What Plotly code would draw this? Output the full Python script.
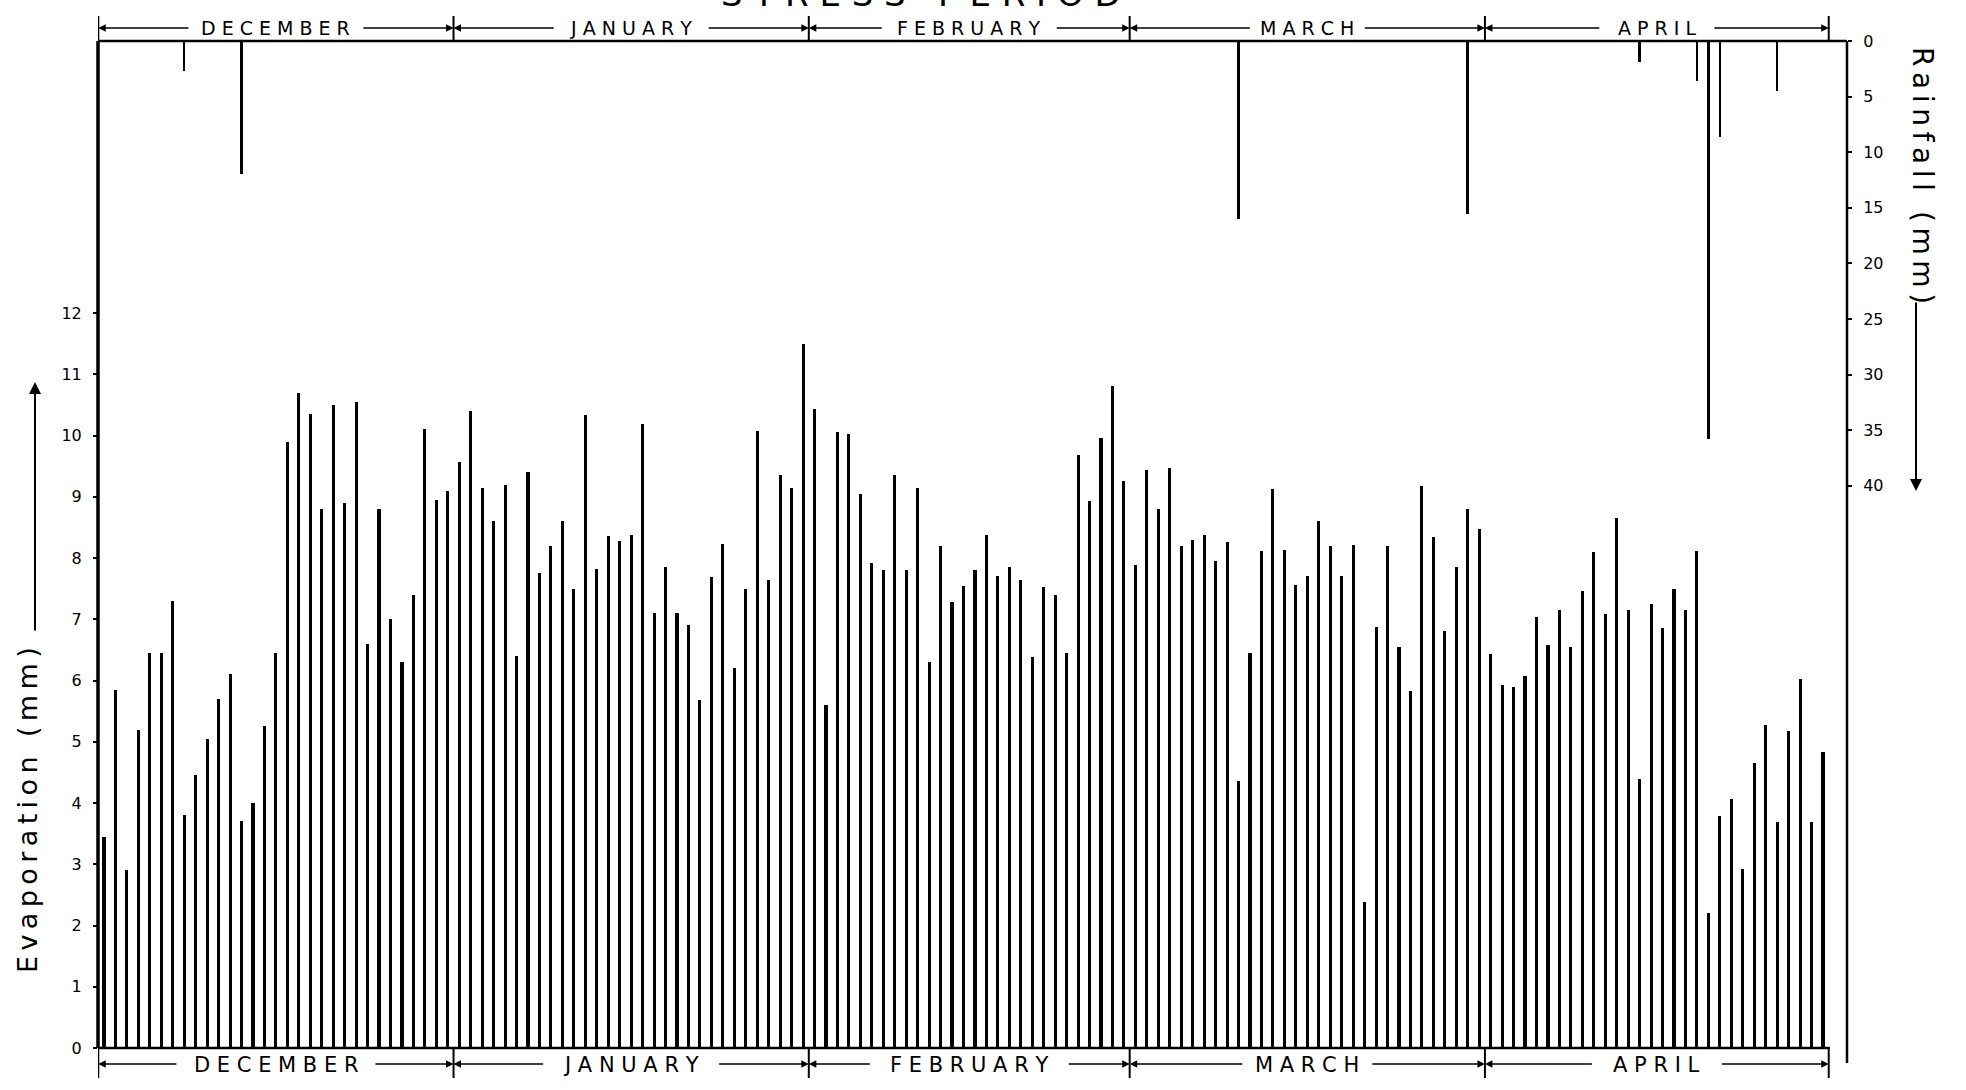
import plotly.graph_objects as go

# ---------------- data ----------------
months = ["DECEMBER", "JANUARY", "FEBRUARY", "MARCH", "APRIL"]
month_days = [31, 31, 28, 31, 30]

evap_dec = [3.45, 5.85, 2.9, 5.2, 6.45, 6.45, 7.3, 3.8, 4.45, 5.05, 5.7, 6.1, 3.7, 4.0, 5.25,
            6.45, 9.9, 10.7, 10.35, 8.8, 10.5, 8.9, 10.55, 6.6, 8.8, 7.0, 6.3, 7.4, 10.1, 8.95, 9.1]
evap_jan = [9.57, 10.4, 9.15, 8.6, 9.2, 6.4, 9.4, 7.75, 8.2, 8.6, 7.5, 10.33, 7.82, 8.36, 8.27,
            8.38, 10.18, 7.1, 7.85, 7.11, 6.9, 5.68, 7.69, 8.23, 6.2, 7.49, 10.08, 7.64, 9.36, 9.14, 11.5]
evap_feb = [10.44, 5.6, 10.06, 10.02, 9.04, 7.92, 7.8, 9.35, 7.8, 9.14, 6.31, 8.19, 7.28, 7.54,
            7.8, 8.38, 7.71, 7.85, 7.64, 6.39, 7.52, 7.4, 6.45, 9.68, 8.93, 9.96, 10.81, 9.25]
evap_mar = [7.88, 9.43, 8.8, 9.47, 8.2, 8.3, 8.38, 7.95, 8.26, 4.36, 6.45, 8.11, 9.12, 8.13, 7.56,
            7.71, 8.61, 8.2, 7.71, 8.21, 2.39, 6.87, 8.2, 6.55, 5.83, 9.18, 8.34, 6.81, 7.85, 8.8, 8.48]
evap_apr = [6.44, 5.93, 5.9, 6.08, 7.04, 6.58, 7.15, 6.55, 7.46, 8.09, 7.08, 8.65, 7.15, 4.4, 7.25,
            6.86, 7.49, 7.15, 8.11, 2.2, 3.79, 4.07, 2.93, 4.65, 5.28, 3.69, 5.18, 6.02, 3.69, 4.84]

rain_month = ["DECEMBER", "DECEMBER", "MARCH", "MARCH", "APRIL", "APRIL", "APRIL", "APRIL", "APRIL"]
rain_day = [8, 13, 10, 30, 14, 19, 20, 21, 26]
rain_mm = [2.7, 12.0, 16.0, 15.6, 1.9, 3.6, 35.8, 8.6, 4.5]

evap_ticks = list(range(0, 13))
rain_ticks = list(range(0, 45, 5))

# ---------------- derived ----------------
evaporation = evap_dec + evap_jan + evap_feb + evap_mar + evap_apr
day_index = list(range(1, len(evaporation) + 1))
offsets = {}
acc = 0
bounds = [0.5]
for m, n in zip(months, month_days):
    offsets[m] = acc
    acc += n
    bounds.append(acc + 0.5)
rain_x = [offsets[m] + d for m, d in zip(rain_month, rain_day)]

# ---------------- geometry (pixels) ----------------
W, H = 1966, 1090
L, R, T, B = 98, 1847, 41, 1048
PW, PH = R - L, B - T
px_day = 11.46
x0 = 1 - (104 - L) / px_day
x1 = x0 + PW / px_day
evap_top = PH / 61.25
rain_bottom = PH / 11.12

def py(Y):  # page pixel y -> paper y
    return (B - Y) / PH

def pxp(X):  # page pixel x -> paper x
    return (X - L) / PW

THIN = "\u2009"

def spread(s, sep):
    return sep.join(list(s))

fig = go.Figure()
fig.add_trace(go.Bar(x=day_index, y=evaporation, width=0.27, marker=dict(color="black", line=dict(width=0)),
                     yaxis="y", showlegend=False))
fig.add_trace(go.Bar(x=rain_x, y=rain_mm, width=0.22, marker=dict(color="black", line=dict(width=0)),
                     yaxis="y2", showlegend=False))

shapes = []
lc = "black"
shapes.append(dict(type="line", xref="paper", yref="paper", x0=0, x1=0, y0=0, y1=1, line=dict(color=lc, width=3.5)))
shapes.append(dict(type="line", xref="paper", yref="paper", x0=0, x1=1, y0=1, y1=1, line=dict(color=lc, width=2.5)))
shapes.append(dict(type="line", xref="paper", yref="paper", x0=1, x1=1, y0=py(1063), y1=1, line=dict(color=lc, width=2.5)))
shapes.append(dict(type="line", xref="x", yref="paper", x0=x0 - 0.3, x1=151.6, y0=0, y1=0, line=dict(color=lc, width=2.5)))
for b in bounds:
    shapes.append(dict(type="line", xref="x", yref="paper", x0=b, x1=b, y0=1, y1=py(16), line=dict(color=lc, width=2)))
    shapes.append(dict(type="line", xref="x", yref="paper", x0=b, x1=b, y0=0, y1=py(1078), line=dict(color=lc, width=2)))

ann = []
font_lab = "DejaVu Sans"
for i, m in enumerate(months):
    b0, b1 = bounds[i], bounds[i + 1]
    c = (b0 + b1) / 2
    spaced = " ".join(list(m))
    # top
    hw = (len(m) * 10 + 6) / px_day
    ann.append(dict(x=c, y=py(28), xref="x", yref="paper", text=spaced, showarrow=False,
                    font=dict(family=font_lab, size=19, color="black"), xanchor="center", yanchor="middle"))
    for edge, tgt in ((c - hw, b0), (c + hw, b1)):
        ann.append(dict(x=tgt, y=py(28), xref="x", yref="paper", ax=edge, ay=0, axref="x", ayref="pixel",
                        text="", showarrow=True, arrowhead=2, arrowsize=1, arrowwidth=1.5, arrowcolor="black",
                        standoff=0, startstandoff=0))
    # bottom
    hwb = (len(m) * 11.5 + 6) / px_day
    ann.append(dict(x=c, y=py(1065), xref="x", yref="paper", text=spaced, showarrow=False,
                    font=dict(family=font_lab, size=21, color="black"), xanchor="center", yanchor="middle"))
    for edge, tgt in ((c - hwb, b0), (c + hwb, b1)):
        ann.append(dict(x=tgt, y=py(1064), xref="x", yref="paper", ax=edge, ay=0, axref="x", ayref="pixel",
                        text="", showarrow=True, arrowhead=2, arrowsize=1, arrowwidth=1.5, arrowcolor="black",
                        standoff=0, startstandoff=0))

# title (cut off at top of page, as in the reference)
ann.append(dict(x=pxp(921), y=py(16), xref="paper", yref="paper", text="S T R E S S   P E R I O D",
                showarrow=False, xanchor="center", yanchor="bottom",
                font=dict(family=font_lab, size=34, color="black")))
# axis titles
ann.append(dict(x=pxp(28), y=py(810), xref="paper", yref="paper", text=spread("Evaporation (mm)", THIN),
                textangle=-90, showarrow=False, xanchor="center", yanchor="middle",
                font=dict(family=font_lab, size=27, color="black")))
ann.append(dict(x=pxp(1922), y=py(175), xref="paper", yref="paper", text=spread("Rainfall (mm)", THIN),
                textangle=90, showarrow=False, xanchor="center", yanchor="middle",
                font=dict(family=font_lab, size=28, color="black")))
# axis arrows
ann.append(dict(x=pxp(35), y=py(382), xref="paper", yref="paper", ax=0, ay=250, text="", showarrow=True,
                arrowhead=2, arrowsize=1.2, arrowwidth=2, arrowcolor="black"))
ann.append(dict(x=pxp(1916), y=py(491), xref="paper", yref="paper", ax=0, ay=-190, text="", showarrow=True,
                arrowhead=2, arrowsize=1.2, arrowwidth=2, arrowcolor="black"))

fig.update_layout(
    width=W, height=H,
    margin=dict(l=L, r=W - R, t=T, b=H - B, pad=0),
    paper_bgcolor="white", plot_bgcolor="white",
    barmode="overlay", bargap=0,
    shapes=shapes, annotations=ann,
    xaxis=dict(range=[x0, x1], showticklabels=False, ticks="", showgrid=False, zeroline=False, showline=False),
    yaxis=dict(range=[0, evap_top], tickvals=evap_ticks, ticktext=[str(v) for v in evap_ticks],
               ticks="outside", ticklen=4, tickwidth=2, tickcolor="black", showgrid=False, zeroline=False,
               showline=False, ticklabelstandoff=8,
               tickfont=dict(family=font_lab, size=16, color="black")),
    yaxis2=dict(range=[rain_bottom, 0], overlaying="y", side="right", tickvals=rain_ticks,
                ticktext=[str(v) for v in rain_ticks], ticks="outside", ticklen=4, tickwidth=2,
                tickcolor="black", showgrid=False, zeroline=False, showline=False, ticklabelstandoff=8,
                tickfont=dict(family=font_lab, size=16, color="black")),
    showlegend=False,
)

fig.write_html("out.html")
